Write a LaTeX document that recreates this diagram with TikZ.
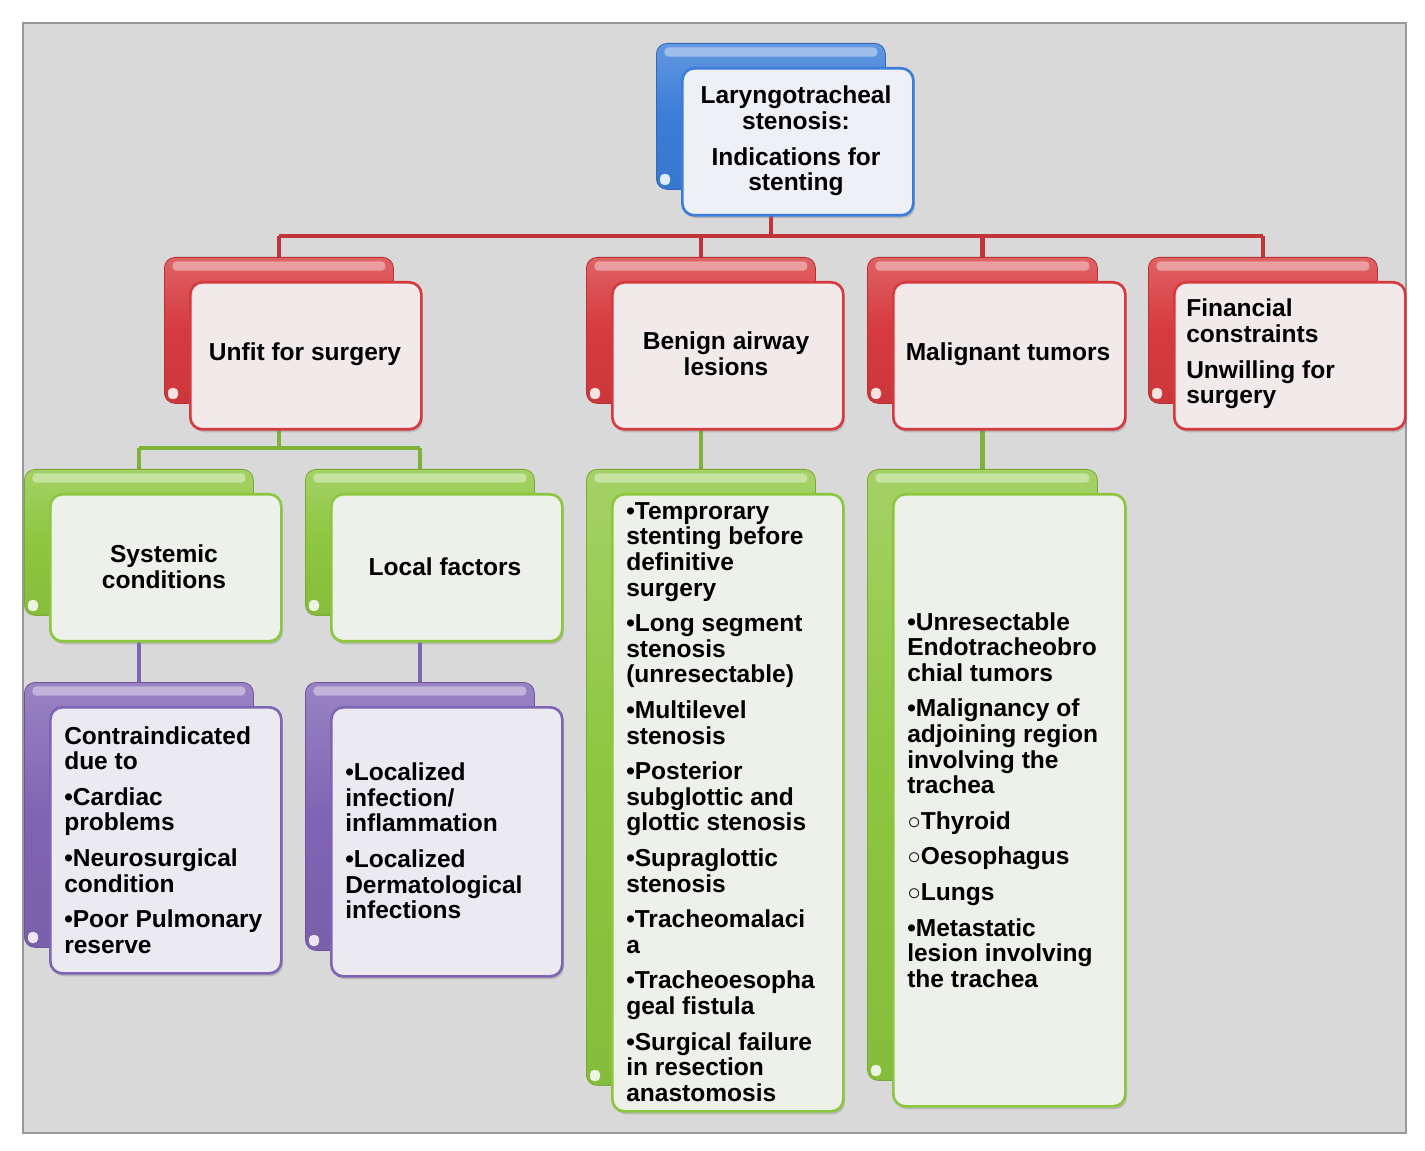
\documentclass[tikz,border=0pt]{standalone}
\usepackage{fontspec}
\setmainfont{Liberation Sans}
\usetikzlibrary{shadows}
\pgfdeclarelayer{bg}
\pgfdeclarelayer{conn}
\pgfsetlayers{bg,conn,main}
\definecolor{blueC}{HTML}{3B7DD8}
\definecolor{blueL}{HTML}{EEF0F5}
\definecolor{redC}{HTML}{D63A3E}
\definecolor{redL}{HTML}{F2EAEA}
\definecolor{greenC}{HTML}{8DC63F}
\definecolor{greenL}{HTML}{EEF0EA}
\definecolor{purpleC}{HTML}{8064B4}
\definecolor{purpleL}{HTML}{ECEAF1}
\definecolor{panel}{HTML}{D9D9D9}
\definecolor{panelLine}{HTML}{999999}
\newcommand\obul{{\mdseries\fontsize{17pt}{17pt}\selectfont ○}}
\tikzset{
  backbox/.style={rectangle, rounded corners=8pt, draw=#1C!85!black, line width=0.6pt,
    top color=#1C!80!white, bottom color=#1C!95!black, middle color=#1C, inner sep=0pt,
    path picture={\fill[white, opacity=0.4, rounded corners=3pt]
      ([xshift=6pt,yshift=-3pt]path picture bounding box.north west) rectangle
      ([xshift=-6pt,yshift=-10pt]path picture bounding box.north east);}},
  frontbox/.style={rectangle, rounded corners=9pt, draw=#1C, line width=2pt, fill=#1L,
    drop shadow={opacity=0.35, shadow xshift=1.2pt, shadow yshift=-2.2pt}, inner sep=0pt},
  txt/.style={font=\fontsize{18.4pt}{19.2pt}\selectfont\bfseries, inner sep=0pt, text=black},
  link/.style={line width=3.2pt, draw=#1},
}
% #1 name, #2 x front left, #3 y front top, #4 width, #5 height, #6 colour family
\newcommand\mkcard[6]{%
  \node[backbox=#6, anchor=north west, minimum width={(#4-2)*0.75pt}, minimum height={(#5-1)*0.75pt}]
     (#1B) at ({#2-25},{#3-24}) {};
  \fill[white, opacity=0.85, rounded corners=3pt] ({#2-25+4},{#3-24+#5-1-4}) rectangle ({#2-25+14},{#3-24+#5-1-15});
  \node[frontbox=#6, anchor=north west, minimum width={#4*0.75pt}, minimum height={#5*0.75pt}]
     (#1) at (#2,#3) {};
}
\begin{document}
\begin{tikzpicture}[x=0.75pt,y=-0.75pt]
\useasboundingbox (0,0) rectangle (1425,1151);
\begin{pgfonlayer}{bg}
  \fill[white] (0,0) rectangle (1425,1151);
  \node[fill=panel, draw=panelLine, line width=1.2pt, anchor=north west, inner sep=0pt,
        minimum width={1383*0.75pt}, minimum height={1110*0.75pt}] (panel) at (22,22) {};
\end{pgfonlayer}

% cards
\mkcard{root}{681}{67}{231}{147}{blue}
\mkcard{unfit}{189}{281}{231}{147}{red}
\mkcard{benign}{611}{281}{231}{147}{red}
\mkcard{malig}{892}{281}{232}{147}{red}
\mkcard{fin}{1173}{281}{231}{147}{red}
\mkcard{sys}{49}{493}{231}{147}{green}
\mkcard{loc}{330}{493}{231}{147}{green}
\mkcard{benlist}{611}{493}{231}{617}{green}
\mkcard{mallist}{892}{493}{232}{612}{green}
\mkcard{contra}{49}{706}{231}{266}{purple}
\mkcard{locl}{330}{706}{231}{269}{purple}

% texts
\node[txt, align=center] (troot) at (796,141)
  {Laryngotracheal\\stenosis:\\[7.5pt]Indications for\\stenting};
\node[txt] (tunfit) at (305,354) {Unfit for surgery};
\node[txt, align=center] (tbenign) at (726,354) {Benign airway\\lesions};
\node[txt] (tmalig) at (1008,354) {Malignant tumors};
\node[txt, align=left, anchor=west] (tfin) at (1186,354)
  {Financial\\constraints\\[7.5pt]Unwilling for\\surgery};
\node[txt, align=center] (tsys) at (164,567) {Systemic\\conditions};
\node[txt] (tloc) at (445,567) {Local factors};
\node[txt, align=left, anchor=west] (tcontra) at (64,840)
  {Contraindicated\\due to\\[7.5pt]•Cardiac\\problems\\[7.5pt]•Neurosurgical\\condition\\[7.5pt]•Poor Pulmonary\\reserve};
\node[txt, align=left, anchor=west] (tlocl) at (345,841)
  {•Localized\\infection/\\inflammation\\[7.5pt]•Localized\\Dermatological\\infections};
\node[txt, align=left, anchor=west] (tbenlist) at (626,802)
  {•Temprorary\\stenting before\\definitive\\surgery\\[7.5pt]%
   •Long segment\\stenosis\\(unresectable)\\[7.5pt]%
   •Multilevel\\stenosis\\[7.5pt]%
   •Posterior\\subglottic and\\glottic stenosis\\[7.5pt]%
   •Supraglottic\\stenosis\\[7.5pt]%
   •Tracheomalaci\\a\\[7.5pt]%
   •Tracheoesopha\\geal fistula\\[7.5pt]%
   •Surgical failure\\in resection\\anastomosis};
\node[txt, align=left, anchor=west] (tmallist) at (907,800)
  {•Unresectable\\Endotracheobro\\chial tumors\\[7.5pt]%
   •Malignancy of\\adjoining region\\involving the\\trachea\\[7.5pt]%
   \obul Thyroid\\[7.5pt]\obul Oesophagus\\[7.5pt]\obul Lungs\\[7.5pt]%
   •Metastatic\\lesion involving\\the trachea};

% connectors
\coordinate (bus1) at (0,236);
\coordinate (bus2) at (0,448);
\begin{pgfonlayer}{conn}
  \draw[link=redC!90!black] (rootB.center) -- (rootB.center |- bus1);
  \draw[link=redC!90!black] (unfitB.center |- bus1) -- (finB.center |- bus1);
  \draw[link=redC!90!black] (unfitB.center |- bus1) -- (unfitB.center);
  \draw[link=redC!90!black] (benignB.center |- bus1) -- (benignB.center);
  \draw[link=redC!90!black] (maligB.center |- bus1) -- (maligB.center);
  \draw[link=redC!90!black] (finB.center |- bus1) -- (finB.center);
  \draw[link=greenC!90!black] (unfitB.center) -- (unfitB.center |- bus2);
  \draw[link=greenC!90!black] (sysB.center |- bus2) -- (locB.center |- bus2);
  \draw[link=greenC!90!black] (sysB.center |- bus2) -- (sysB.center);
  \draw[link=greenC!90!black] (locB.center |- bus2) -- (locB.center);
  \draw[link=greenC!90!black] (benignB.center) -- (benlistB.center);
  \draw[link=greenC!90!black] (maligB.center) -- (mallistB.center);
  \draw[link=purpleC] (sysB.center) -- (contraB.center);
  \draw[link=purpleC] (locB.center) -- (loclB.center);
\end{pgfonlayer}
\end{tikzpicture}
\end{document}
